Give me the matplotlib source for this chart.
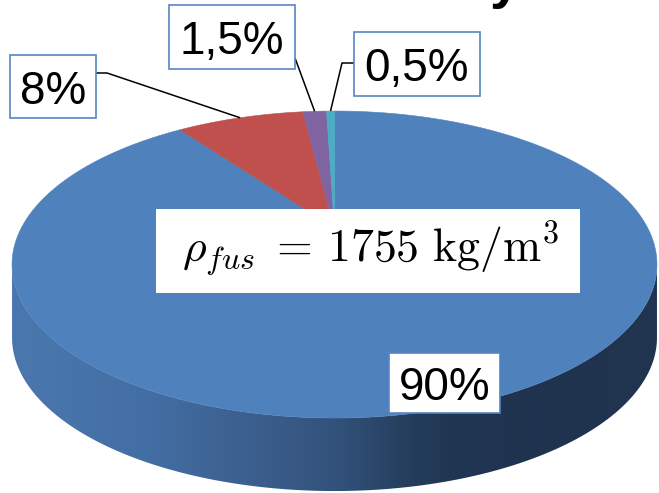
import numpy as np
import matplotlib
matplotlib.use("Agg")
import matplotlib.pyplot as plt
from matplotlib.patches import Polygon, Rectangle
from matplotlib.colors import to_rgb

plt.rcParams["mathtext.fontset"] = "cm"

# Composition of the fuselage material (percent)
shares = [90, 8, 1.5, 0.5]
share_labels = ["90%", "8%", "1,5%", "0,5%"]
slice_colors = ["#4f81bd", "#c0504d", "#8064a2", "#4bacc6"]
density_label = r"$\rho_{fus}\;=\,1755\ \mathrm{kg/m^3}$"

# Label boxes (left, top, right, bottom) in canvas pixels and leader anchors
label_boxes = [(389, 353, 500, 413), (10, 55, 96, 118),
               (169, 5, 295, 69), (354, 32, 480, 96)]
leader_starts = [None, [(96, 73), (107, 73)], [(295, 58)], [(354, 63), (342, 63)]]

W, H = 659, 493
fig = plt.figure(figsize=(W / 100, H / 100), dpi=100)
ax = fig.add_axes([0, 0, 1, 1])
ax.set_xlim(0, W)
ax.set_ylim(H, 0)
ax.axis("off")

# Perspective view of a tilted disc: apex, half-axes, foreshortening, thickness
CX, CY, A, B, K = 334.5, 228.0, 313.2, 144.8, 0.238
DEPTH = 73


def rim(theta, r=1.0, drop=0.0):
    s, c = np.sin(theta), np.cos(theta)
    w = 1 + K * r * c
    return CX + A * r * s / w, CY + drop - B * r * c / w


# Side wall of the disc with a horizontal shading gradient
t0 = np.arccos(-K)
t = np.linspace(t0, 2 * np.pi - t0, 300)
xt, yt = rim(t)
xb, yb = rim(t[::-1], drop=DEPTH)
side = Polygon(np.column_stack([np.r_[xt, xb], np.r_[yt, yb]]),
               closed=True, facecolor="none", edgecolor="none")
ax.add_patch(side)
stops_x = [12, 150, 260, 340, 400, 450, 560, 657]
stops_c = ["#4a78ae", "#436ea3", "#3b5e8c", "#32517a", "#26405f",
           "#213653", "#1f324e", "#213550"]
gx = np.linspace(0, W, 700)
rgb = np.array([to_rgb(c) for c in stops_c])
grad = np.stack([np.interp(gx, stops_x, rgb[:, k]) for k in range(3)], axis=-1)[None, :, :]
img = ax.imshow(grad, extent=[0, W, H + 5, 200], aspect="auto", zorder=1,
                interpolation="bilinear")
img.set_clip_path(side)

# Top face: one wedge per share, clockwise from twelve o'clock
edges = 2 * np.pi * np.cumsum([0] + shares) / np.sum(shares)
mids = []
for i, col in enumerate(slice_colors):
    a0, a1 = edges[i], edges[i + 1]
    n = max(4, int(400 * (a1 - a0) / (2 * np.pi)))
    tt = np.linspace(a0, a1, n)
    x, y = rim(tt)
    ax.fill(np.r_[CX, x], np.r_[CY, y], facecolor=col, edgecolor=col,
            linewidth=0.4, zorder=2)
    mids.append(rim(0.5 * (a0 + a1)))

# Leader lines and data labels
for i, lab in enumerate(share_labels):
    l, tp, r, b = label_boxes[i]
    if leader_starts[i] is not None:
        pts = leader_starts[i] + [mids[i]]
        px, py = zip(*pts)
        ax.plot(px, py, color="black", lw=1.1, zorder=3,
                solid_capstyle="butt")
    ax.add_patch(Rectangle((l, tp), r - l, b - tp, facecolor="white",
                           edgecolor="#5585c2", lw=1.2, zorder=4))
    ax.text((l + r) / 2, (tp + b) / 2 + 17, lab, ha="center", va="baseline",
            fontsize=33, family="Liberation Sans", color="black", zorder=5)

# Density annotation
ax.add_patch(Rectangle((156, 209), 424, 84, facecolor="white",
                       edgecolor="none", zorder=4))
ax.text(371, 262, density_label, ha="center", va="baseline", fontsize=33,
        color="black", zorder=5)

# Tail of the heading above the chart
ax.text(490, -3, "y", ha="left", va="baseline", fontsize=40,
        fontweight="bold", family="Liberation Sans", color="black", zorder=5)

fig.savefig("out.png", dpi=100)
